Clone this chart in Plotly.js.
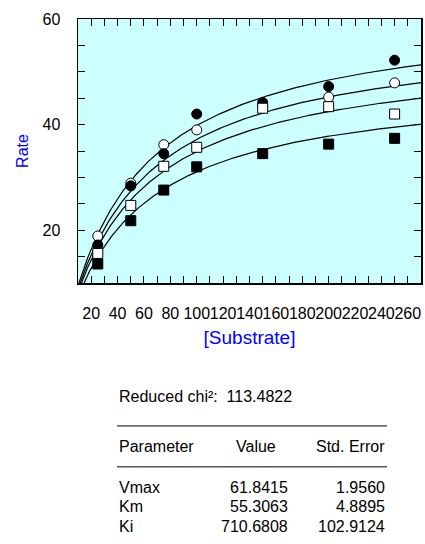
<!DOCTYPE html>
<html>
<head>
<meta charset="utf-8">
<script src="https://cdn.plot.ly/plotly-3.0.1.min.js"></script>
<style>
  html, body { margin: 0; padding: 0; background: #ffffff; }
  #chart { width: 425px; height: 544px; }
</style>
</head>
<body>
<div id="chart"></div>
<script>
// Substrate concentrations and measured rates at each inhibitor level
const substrate = [25, 50, 75, 100, 150, 200, 250];
const rateI0   = [17.2, 28.4, 34.5, 42.0, 44.2, 47.2, 52.2];  // filled circles
const rateI50  = [18.9, 28.9, 36.2, 39.0, 43.4, 45.2, 47.9];  // open circles
const rateI100 = [15.6, 24.7, 32.1, 35.7, 43.1, 43.4, 42.0];  // open squares
const rateI200 = [13.6, 21.8, 27.6, 32.0, 34.5, 36.3, 37.4];  // filled squares
const inhibitor = [0, 50, 100, 200];

// Fitted noncompetitive-inhibition parameters
const paramNames  = ["Vmax", "Km", "Ki"];
const paramValues = ["61.8415", "55.3063", "710.6808"];
const paramErrors = ["1.9560", "4.8895", "102.9124"];
const chiLabel = "Reduced chi²:  113.4822";

const vmax = parseFloat(paramValues[0]);
const km   = parseFloat(paramValues[1]);
const ki   = parseFloat(paramValues[2]);

const FONT = "Arial, 'Liberation Sans', sans-serif";
const BLUE = "#0000ff";

// Fitted curves v = Vmax*S / ((Km+S)(1+I/Ki)), sampled over the axis span
const sGrid = [];
for (let s = 2; s <= 272; s += 1) sGrid.push(s);
const fitTraces = inhibitor.map(I => ({
  x: sGrid,
  y: sGrid.map(s => vmax * s / ((km + s) * (1 + I / ki))),
  mode: "lines",
  line: { color: "#000000", width: 1.2 },
  hoverinfo: "skip"
}));

function markerTrace(y, symbol, fill) {
  return {
    x: substrate, y: y, mode: "markers",
    marker: { symbol: symbol, size: 10, color: fill, line: { color: "#000000", width: 1 } }
  };
}

const traces = fitTraces.concat([
  markerTrace(rateI50, "circle", "#ffffff"),
  markerTrace(rateI0, "circle", "#000000"),
  markerTrace(rateI100, "square", "#ffffff"),
  markerTrace(rateI200, "square", "#000000")
]);

// Pixel helpers for the results table below the plot
const PL = 78, PR = 421, PT = 19, PB = 283.5;
const px = v => (v - PL) / (PR - PL);
const py = v => (PB - v) / (PB - PT);

function txt(text, x, y, anchor) {
  return {
    text: text, xref: "paper", yref: "paper", x: px(x), y: py(y),
    xanchor: anchor, yanchor: "middle", showarrow: false,
    font: { family: FONT, size: 16, color: "#000000" }
  };
}

const annotations = [
  txt(chiLabel, 117, 397, "left"),
  txt("Parameter", 117, 447, "left"),
  txt("Value", 256, 447, "center"),
  txt("Std. Error", 387, 447, "right")
];
paramNames.forEach((n, i) => {
  const yy = 488 + i * 19.8;
  annotations.push(txt(n, 117, yy, "left"));
  annotations.push(txt(paramValues[i], 289.5, yy, "right"));
  annotations.push(txt(paramErrors[i], 387, yy, "right"));
});

const shapes = [426.7, 467.7].map(yy => ({
  type: "line", xref: "paper", yref: "paper",
  x0: px(117), x1: px(387), y0: py(yy), y1: py(yy),
  line: { color: "#000000", width: 1 }
}));

const layout = {
  width: 425, height: 544,
  margin: { l: PL, r: 425 - PR, t: PT, b: 544 - PB },
  paper_bgcolor: "#ffffff",
  plot_bgcolor: "#ccffff",
  showlegend: false,
  font: { family: FONT, color: "#000000" },
  xaxis: {
    range: [10, 270], tick0: 0, dtick: 20, tickangle: 0,
    ticks: "inside", ticklen: 7, tickwidth: 1, tickcolor: "#000000",
    minor: { dtick: 10, ticks: "inside", ticklen: 7, tickwidth: 1, tickcolor: "#000000" },
    showline: true, linecolor: "#000000", linewidth: 1.5, mirror: "ticks",
    showgrid: false, zeroline: false,
    tickfont: { family: FONT, size: 16, color: "#000000" },
    ticklabelstandoff: 15,
    title: { text: "[Substrate]", font: { family: FONT, size: 19, color: BLUE }, standoff: 10 }
  },
  yaxis: {
    range: [10, 60], tick0: 0, dtick: 20,
    ticks: "inside", ticklen: 7, tickwidth: 1, tickcolor: "#000000",
    minor: { dtick: 5, ticks: "inside", ticklen: 7, tickwidth: 1, tickcolor: "#000000" },
    showline: true, linecolor: "#000000", linewidth: 1.5, mirror: "ticks",
    showgrid: false, zeroline: false,
    tickfont: { family: FONT, size: 16, color: "#000000" },
    ticklabelstandoff: 13,
    title: { text: "Rate", font: { family: FONT, size: 16, color: BLUE }, standoff: 10 }
  },
  annotations: annotations,
  shapes: shapes
};

Plotly.newPlot("chart", traces, layout, { displayModeBar: false, staticPlot: true });
</script>
</body>
</html>
